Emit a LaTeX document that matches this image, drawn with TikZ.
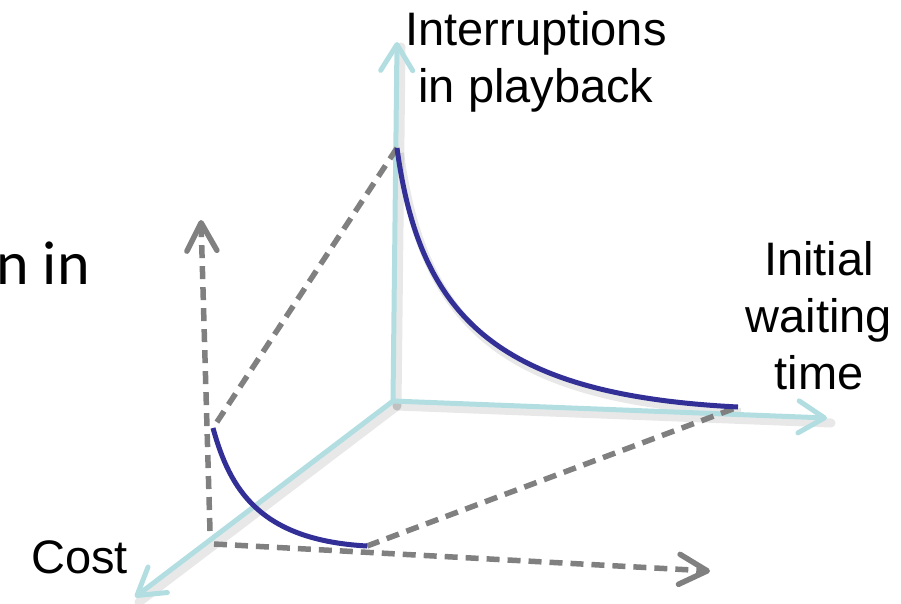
\documentclass[tikz,border=0pt]{standalone}
\usepackage{fontspec}
\setmainfont{Liberation Sans}
\newfontfamily\calfont{Carlito}
\usetikzlibrary{arrows.meta}
\definecolor{axiscol}{RGB}{178,222,226}
\definecolor{curvecol}{RGB}{50,48,150}
\definecolor{dashcol}{RGB}{128,128,128}
\begin{document}
\begin{tikzpicture}[x=1pt,y=-1pt,
  axis/.style={draw=axiscol,line width=5pt,line cap=round,
    -{Straight Barb[length=26pt,width=32pt,line width=5pt,round]}},
  axshadow/.style={draw=black,opacity=0.09,line width=9pt,line cap=round},
  dline/.style={draw=dashcol,line width=5.5pt,dash pattern=on 13pt off 8pt},
  darrow/.style={dline,-{Straight Barb[length=28pt,width=30pt,line width=5.5pt,round]}},
  crv/.style={draw=curvecol,line width=5pt},
  lbl/.style={font=\fontsize{47}{57}\selectfont,align=center,inner sep=0pt}]
\path[use as bounding box] (0,0) rectangle (901,603);
\clip (0,0) rectangle (901,603);
% coordinates
\coordinate (O) at (393,401);
\coordinate (Ztip) at (397,42);
\coordinate (Xtip) at (827,418);
\coordinate (Ctip) at (135,597);
\coordinate (A) at (397,148);
\coordinate (B) at (738,407);
\coordinate (P) at (213,428);
\coordinate (Q) at (367,546);
\coordinate (Vb) at (210,531);
\coordinate (Vt) at (201,220);
\coordinate (Hb) at (214,544);
\coordinate (Ht) at (710,571);
% shadows
\draw[axshadow] ([shift={(4,5)}]O) -- ([shift={(4,5)}]Ztip);
\draw[axshadow] ([shift={(4,5)}]O) -- ([shift={(4,5)}]Xtip);
\draw[axshadow] ([shift={(4,5)}]O) -- ([shift={(4,5)}]Ctip);
\draw[draw=black,opacity=0.09,line width=8pt] ([shift={(3,5)}]A) .. controls ([shift={(3,5)}]420,320) and ([shift={(3,5)}]500,395) .. ([shift={(3,5)}]B);
% axes
\draw[axis] (O) -- (Ztip);
\draw[axis] (O) -- (Xtip);
\draw[axis] (O) -- (Ctip);
% dashed projections
\draw[dline] (A) -- (P);
\draw[dline] (Q) -- (B);
\draw[darrow] (Vb) -- (Vt);
\draw[darrow] (Hb) -- (Ht);
% curves
\draw[crv] (A) .. controls (420,320) and (500,395) .. (B);
\draw[crv] (P) .. controls (230,490) and (260,540) .. (Q);
% labels
\node[lbl] (lz) at (536,62) {Interruptions\\in playback};
\node[lbl] (lx) at (819,316) {Initial\\waiting\\time};
\node[lbl,anchor=east] (lc) at (128,557) {Cost};
\node[lbl,font=\calfont\fontsize{62}{74}\selectfont,anchor=base east] (ll) at (90,284) {n in};
\end{tikzpicture}
\end{document}
